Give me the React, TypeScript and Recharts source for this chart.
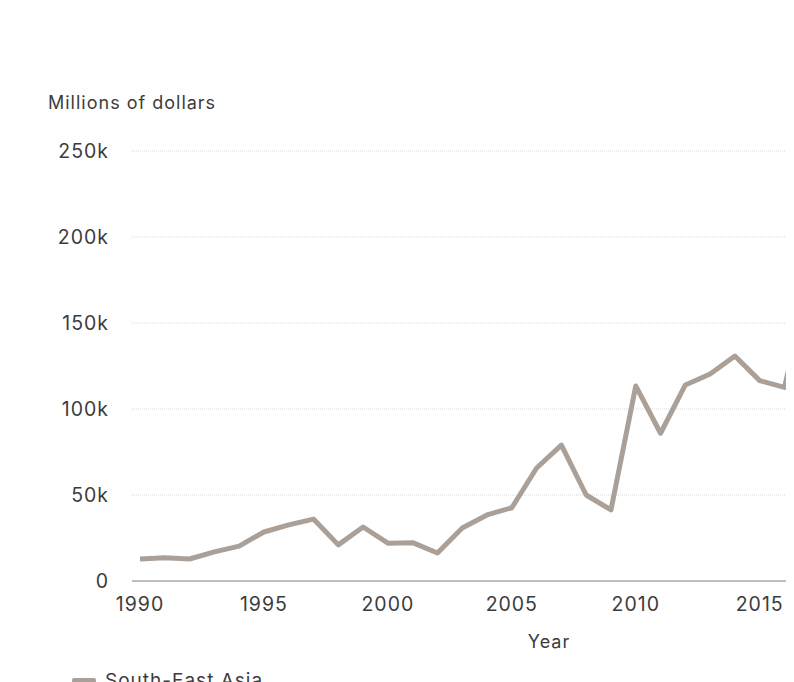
import React from "react";
import { LineChart, Line, XAxis, YAxis, CartesianGrid, Legend } from "recharts";

const years = [1990, 1991, 1992, 1993, 1994, 1995, 1996, 1997, 1998, 1999, 2000, 2001, 2002, 2003, 2004, 2005, 2006, 2007, 2008, 2009, 2010, 2011, 2012, 2013, 2014, 2015, 2016, 2017];
const southEastAsia = [12800, 13500, 12800, 16900, 20300, 28500, 32600, 36000, 21000, 31400, 22000, 22300, 16300, 30800, 38400, 42600, 65700, 79000, 50000, 41300, 113400, 85900, 114000, 120300, 130800, 116500, 112600, 175000];
const xTicks = [1990, 1995, 2000, 2005, 2010, 2015, 2020];
const yTicks = [0, 50000, 100000, 150000, 200000, 250000];
const seriesName = "South-East Asia";
const yTitle = "Millions of dollars";
const xTitle = "Year";

const data = years.map((y, i) => ({ year: y, value: southEastAsia[i] }));

const FONT = "Inter, 'Noto Sans', sans-serif";
const LINE_COLOR = "#aaa097";
const TEXT_COLOR = "#3c3c3c";

const fmtK = (v: number) => (v === 0 ? "0" : `${v / 1000}k`);

const LegendContent = () => (
  <div style={{ display: "flex", alignItems: "center", paddingLeft: 64, height: 24, fontFamily: FONT, fontSize: 19, letterSpacing: 1, color: TEXT_COLOR }}>
    <span style={{ display: "inline-block", width: 24, height: 5, borderRadius: 2, background: LINE_COLOR, marginRight: 9 }} />
    <span>{seriesName}</span>
  </div>
);

export default function App() {
  return (
    <div style={{ position: "relative", width: 786, height: 674, overflow: "hidden", fontFamily: FONT }}>
      <div style={{ position: "absolute", left: 40, top: 84, fontSize: 18, letterSpacing: 1, color: TEXT_COLOR, lineHeight: "22px", whiteSpace: "nowrap" }}>
        {yTitle}
      </div>
      <LineChart
        width={990}
        height={704}
        data={data}
        margin={{ top: 143, right: 32, bottom: 20, left: 0 }}
        style={{ fontFamily: FONT }}
      >
        <CartesianGrid vertical={false} stroke="#d8d8d8" strokeDasharray="1 1" />
        <XAxis
          dataKey="year"
          type="number"
          domain={[1990, 2023]}
          ticks={xTicks}
          padding={{ left: 8, right: 8 }}
          height={87}
          tickSize={0}
          tickMargin={16}
          axisLine={{ stroke: "#b5aaa5", strokeWidth: 1.5 }}
          tick={{ fill: TEXT_COLOR, fontSize: 19.5, letterSpacing: 1 }}
          label={{ value: xTitle, position: "insideBottom", offset: 20, fill: TEXT_COLOR, fontSize: 18, letterSpacing: 1 }}
        />
        <YAxis
          domain={[0, 250000]}
          ticks={yTicks}
          tickFormatter={fmtK}
          width={124}
          tickSize={0}
          tickMargin={23}
          axisLine={false}
          tick={{ fill: TEXT_COLOR, fontSize: 19.5, letterSpacing: 1 }}
        />
        <Legend verticalAlign="bottom" align="left" content={<LegendContent />} />
        <Line
          type="linear"
          dataKey="value"
          name={seriesName}
          stroke={LINE_COLOR}
          strokeWidth={5}
          strokeLinejoin="round"
          dot={false}
          activeDot={false}
          isAnimationActive={false}
        />
      </LineChart>
    </div>
  );
}
